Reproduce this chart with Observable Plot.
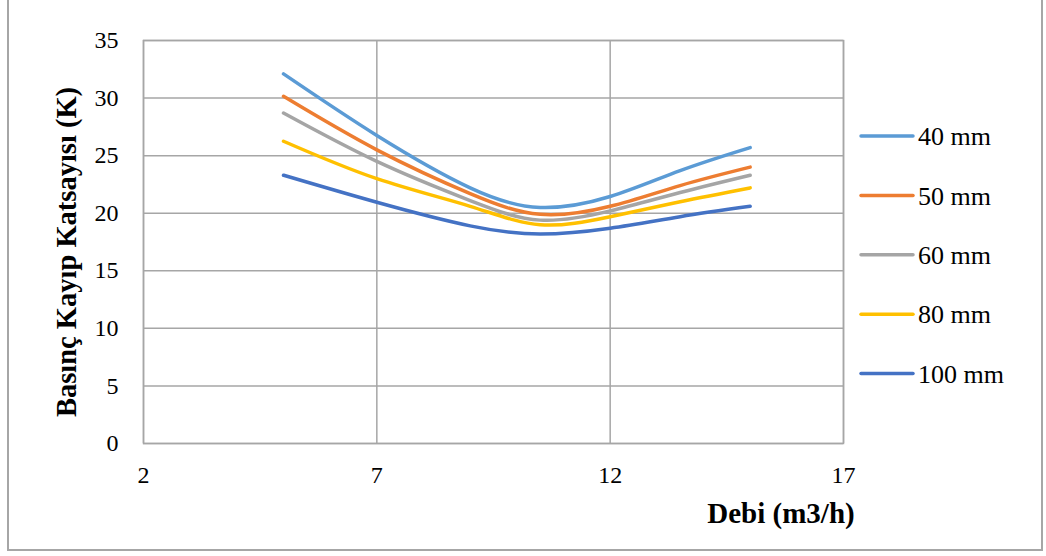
<!DOCTYPE html>
<html>
<head>
<meta charset="utf-8">
<script src="https://cdn.jsdelivr.net/npm/d3@7"></script>
<script src="https://cdn.jsdelivr.net/npm/@observablehq/plot@0.6"></script>
<style>
  html, body { margin: 0; padding: 0; background: #fff; }
  #wrap { position: relative; width: 1046px; height: 556px; overflow: hidden; }
  #border { position: absolute; left: 7px; top: -2px; width: 1036px; height: 553px; border: 2px solid #a6a6a6; box-sizing: border-box; pointer-events: none; }
</style>
</head>
<body>
<div id="wrap"><div id="border"></div></div>
<script>
// ---- data ----
const flow = [5, 7, 9, 10.5, 12, 13.5, 15];            // Debi (m3/h)
const seriesNames = ["40 mm", "50 mm", "60 mm", "80 mm", "100 mm"];
const k40  = [32.1, 26.75, 22.2, 20.5, 21.45, 23.7, 25.7];
const k50  = [30.15, 25.5, 21.7, 19.9, 20.6, 22.4, 24.0];
const k60  = [28.7, 24.5, 21.1, 19.4, 20.2, 21.8, 23.3];
const k80  = [26.25, 23.0, 20.6, 19.0, 19.7, 21.0, 22.2];
const k100 = [23.3, 20.95, 18.9, 18.2, 18.7, 19.7, 20.6];
const seriesColors = ["#5B9BD5", "#ED7D31", "#A5A5A5", "#FFC000", "#4472C4"];
const xTicks = [2, 7, 12, 17];
const yTicks = [0, 5, 10, 15, 20, 25, 30, 35];
const xTitle = "Debi (m3/h)";
const yTitle = "Basınç Kayıp Katsayısı (K)";

const allSeries = [k40, k50, k60, k80, k100];
const rows = [];
allSeries.forEach((vals, i) => vals.forEach((v, j) => rows.push({series: seriesNames[i], x: flow[j], y: v})));

const font = "'Liberation Serif', 'Times New Roman', serif";
const gridColor = "#a6a6a6";

const chart = Plot.plot({
  width: 1046,
  height: 556,
  marginLeft: 143,
  marginRight: 203,
  marginTop: 40,
  marginBottom: 113,
  style: { fontFamily: font, fontSize: "24px", color: "#000", background: "transparent" },
  x: { domain: [2, 17], ticks: xTicks, label: null },
  y: { domain: [0, 35], ticks: yTicks, label: null },
  color: { domain: seriesNames, range: seriesColors },
  marks: [
    Plot.gridX(xTicks, { stroke: gridColor, strokeOpacity: 1, strokeWidth: 1.5 }),
    Plot.gridY(yTicks, { stroke: gridColor, strokeOpacity: 1, strokeWidth: 1.5 }),
    Plot.frame({ stroke: gridColor, strokeWidth: 1.5 }),
    Plot.line(rows, { x: "x", y: "y", z: "series", stroke: "series", curve: "natural", strokeWidth: 3.5, strokeLinecap: "round" }),
    Plot.axisX(xTicks, { tickSize: 0, tickPadding: 22, fontSize: 24, fill: "#000", label: null }),
    Plot.axisY(yTicks, { tickSize: 0, tickPadding: 25, fontSize: 24, fill: "#000", label: null })
  ]
});

document.getElementById("wrap").prepend(chart);

const svg = d3.select(chart);
// axis titles
svg.append("text")
  .attr("x", 781).attr("y", 523)
  .attr("text-anchor", "middle")
  .style("font-family", font).style("font-weight", "bold").style("font-size", "29px")
  .attr("fill", "#000")
  .text(xTitle);
svg.append("text")
  .attr("transform", "translate(76,252) rotate(-90)")
  .attr("text-anchor", "middle")
  .style("font-family", font).style("font-weight", "bold").style("font-size", "28.5px")
  .attr("fill", "#000")
  .text(yTitle);

// legend
const legend = svg.append("g");
seriesNames.forEach((name, i) => {
  const cy = 136 + i * 59.4;
  legend.append("line")
    .attr("x1", 861).attr("x2", 913).attr("y1", cy).attr("y2", cy)
    .attr("stroke", seriesColors[i]).attr("stroke-width", 3.5).attr("stroke-linecap", "round");
  legend.append("text")
    .attr("x", 918).attr("y", cy).attr("dy", "0.35em")
    .attr("text-anchor", "start")
    .style("font-family", font).style("font-size", "26px").attr("fill", "#000")
    .text(name);
});
</script>
</body>
</html>
